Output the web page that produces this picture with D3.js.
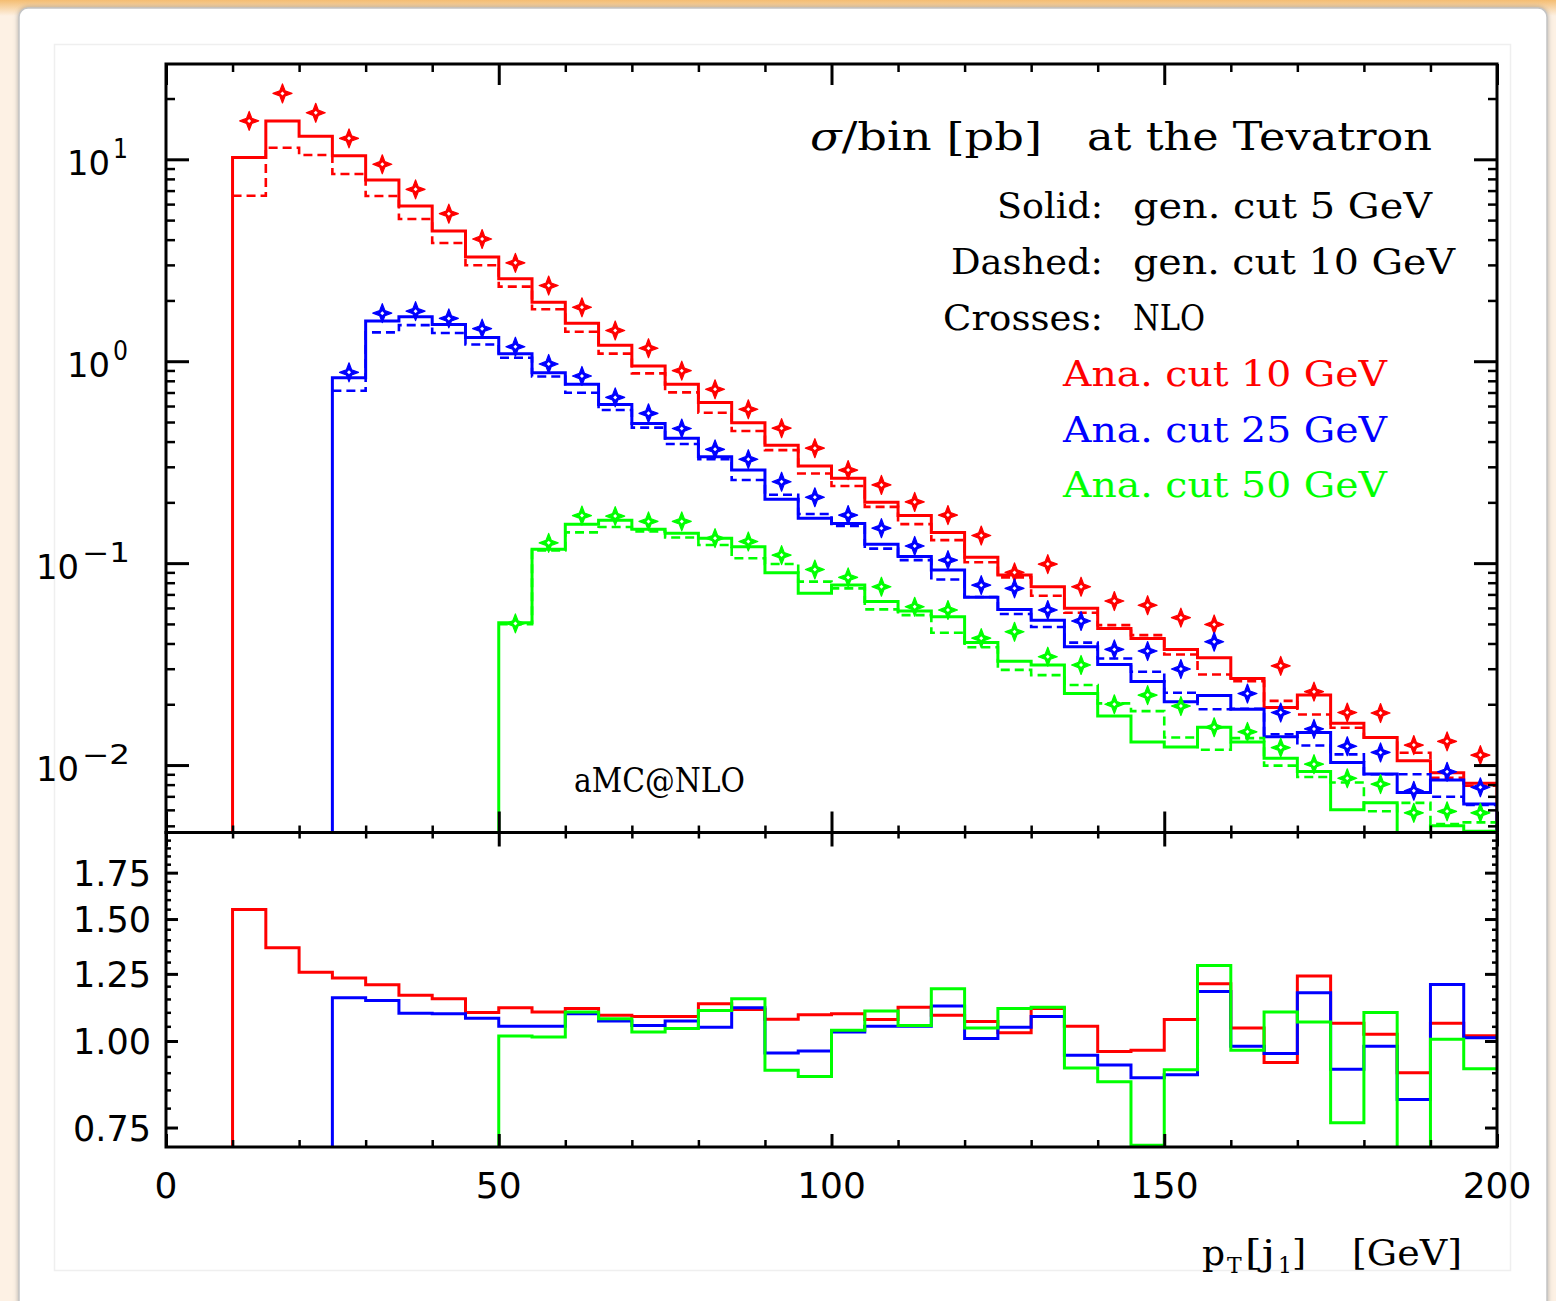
<!DOCTYPE html>
<html>
<head>
<meta charset="utf-8">
<script src="https://cdn.jsdelivr.net/npm/d3@7"></script>
<style>
  html, body { margin: 0; padding: 0; background: #fdf1e4; }
  svg { display: block; }
</style>
</head>
<body>
<div id="chart-area"></div>
<script>
// ---- data (sigma per 5 GeV bin, pb) ----
var binWidth = 5;
var xMax = 200;

// red: analysis cut 10 GeV, bins start at 10 GeV
var redStart = 10;
var redSolid = [10.2, 15.5, 13.0, 10.4, 7.9, 5.87, 4.41, 3.28, 2.56, 1.96,
  1.54, 1.20, 0.946, 0.769, 0.624, 0.496, 0.384, 0.303, 0.263, 0.200,
  0.172, 0.142, 0.107, 0.0873, 0.0764, 0.0597, 0.0475, 0.0424, 0.0374, 0.034,
  0.0268, 0.0193, 0.0222, 0.0161, 0.0137, 0.0105, 0.00917, 0.00812];
var redDashed = [6.6, 11.4, 10.5, 8.46, 6.58, 5.06, 3.85, 2.99, 2.34, 1.81,
  1.40, 1.09, 0.871, 0.701, 0.556, 0.451, 0.363, 0.278, 0.241, 0.190,
  0.156, 0.130, 0.101, 0.085, 0.069, 0.0568, 0.0493, 0.044, 0.0353, 0.0281,
  0.026, 0.0208, 0.0178, 0.0153, 0.0137, 0.0115, 0.00864, 0.0079];
// null = no cross visible in that bin
var redNLO = [15.5, 21.2, 17.0, 12.7, 9.45, 7.1, 5.38, 4.03, 3.07, 2.37,
  1.85, 1.42, 1.16, 0.898, 0.726, 0.578, 0.466, 0.371, 0.289, 0.244,
  0.201, 0.173, 0.137, 0.090, 0.0989, 0.0764, 0.0649, 0.0619, 0.0537, 0.0497,
  null, 0.031, 0.0231, 0.0182, 0.0181, 0.01256, 0.0131, 0.0112];
var redRatio = [1.548, 1.363, 1.257, 1.233, 1.206, 1.164, 1.151, 1.099, 1.117, 1.101,
  1.114, 1.089, 1.085, 1.085, 1.132, 1.110, 1.075, 1.091, 1.095, 1.074,
  1.119, 1.089, 1.067, 1.028, 1.114, 1.050, 0.966, 0.970, 1.074, 1.21,
  1.044, 0.931, 1.241, 1.061, 1.023, 0.900, 1.061, 1.018];

// blue: analysis cut 25 GeV
var blueStart = 25;
var blueSolid = [0.828, 1.58, 1.66, 1.52, 1.31, 1.09, 0.877, 0.768, 0.611, 0.492,
  0.415, 0.336, 0.289, 0.207, 0.167, 0.157, 0.124, 0.108, 0.0925, 0.0677,
  0.059, 0.0522, 0.0385, 0.0315, 0.0259, 0.0206, 0.0221, 0.0189, 0.0138, 0.0145,
  0.0103, 0.00902, 0.00732, 0.00843, 0.00641];
var blueDashed = [0.714, 1.39, 1.51, 1.38, 1.21, 1.04, 0.84, 0.698, 0.573, 0.469,
  0.389, 0.327, 0.258, 0.218, 0.175, 0.153, 0.118, 0.1035, 0.083, 0.068,
  0.056, 0.0483, 0.0404, 0.0337, 0.029, 0.0228, 0.0189, 0.019, 0.0142, 0.0125,
  0.0113, 0.009, 0.009, 0.00697, 0.00634];
var blueNLO = [0.881, 1.73, 1.77, 1.63, 1.45, 1.18, 0.969, 0.845, 0.662, 0.552,
  0.464, 0.366, 0.327, 0.253, 0.212, 0.173, 0.149, 0.1216, 0.1035, 0.0778,
  0.075, 0.0586, 0.0517, 0.0374, 0.0367, 0.0299, 0.0408, 0.0226, 0.0182, 0.0151,
  0.0124, 0.01155, 0.00746, 0.00926, 0.00776];
var blueRatio = [1.155, 1.144, 1.097, 1.095, 1.079, 1.050, 1.050, 1.095, 1.069, 1.053,
  1.069, 1.047, 1.117, 0.961, 0.967, 1.030, 1.050, 1.050, 1.123, 1.008,
  1.047, 1.085, 0.954, 0.923, 0.885, 0.894, 1.179, 0.983, 0.959, 1.174,
  0.910, 0.983, 0.823, 1.207, 1.011];

// green: analysis cut 50 GeV
var greenStart = 50;
var greenSolid = [0.0507, 0.117, 0.156, 0.163, 0.147, 0.1405, 0.133, 0.1206, 0.0897, 0.0709,
  0.078, 0.0645, 0.058, 0.0543, 0.0404, 0.0327, 0.0313, 0.0226, 0.0175, 0.013,
  0.0123, 0.0154, 0.013, 0.0108, 0.0093, 0.0060, 0.0065, 0.0042, 0.0050, 0.0047];
var greenDashed = [0.0499, 0.1155, 0.142, 0.151, 0.1437, 0.134, 0.123, 0.1057, 0.099, 0.081,
  0.075, 0.059, 0.0553, 0.0452, 0.0383, 0.0296, 0.0279, 0.0249, 0.0202, 0.0185,
  0.0137, 0.0119, 0.0136, 0.00993, 0.00873, 0.0082, 0.0059, 0.0065, 0.0051, 0.0052];
var greenNLO = [0.0503, 0.126, 0.172, 0.171, 0.161, 0.161, 0.133, 0.128, 0.1096, 0.093,
  0.085, 0.0764, 0.0608, 0.0586, 0.0425, 0.0457, 0.0344, 0.0313, 0.020, 0.0222,
  0.0196, 0.0154, 0.0146, 0.0122, 0.0101, 0.0086, 0.00805, 0.0058, 0.0059, 0.0058];
var greenRatio = [1.017, 1.013, 1.101, 1.077, 1.030, 1.042, 1.107, 1.151, 0.907, 0.889,
  1.036, 1.105, 1.053, 1.190, 1.044, 1.114, 1.119, 0.914, 0.873, 0.707,
  0.909, 1.285, 0.970, 1.101, 1.065, 0.762, 1.099, 0.65, 1.006, 0.912];

// ticks / labels
var xMajor = [0, 50, 100, 150, 200];
var decades = [0.01, 0.1, 1, 10];
var decadeExp = ["\u22122", "\u22121", "0", "1"];
var ratioMajor = [0.75, 1.00, 1.25, 1.50, 1.75];
var ratioLabels = ["0.75", "1.00", "1.25", "1.50", "1.75"];
var legendLines = ["Ana. cut 10 GeV", "Ana. cut 25 GeV", "Ana. cut 50 GeV"];

var series = [
  {color: "#ff0000", start: redStart, solid: redSolid, dashed: redDashed, nlo: redNLO, ratio: redRatio},
  {color: "#0000ff", start: blueStart, solid: blueSolid, dashed: blueDashed, nlo: blueNLO, ratio: blueRatio},
  {color: "#00ff00", start: greenStart, solid: greenSolid, dashed: greenDashed, nlo: greenNLO, ratio: greenRatio}
];

// ---- layout ----
var W = 1556, H = 1301;
var L = 166, R = 1497, T = 64, M = 832.5, B = 1147;

var svg = d3.select("#chart-area")
  .append("svg")
  .attr("width", W)
  .attr("height", H);

var defs = svg.append("defs");
var grad = defs.append("linearGradient").attr("id", "topband")
  .attr("x1", 0).attr("y1", 0).attr("x2", 0).attr("y2", 1);
grad.append("stop").attr("offset", "0%").attr("stop-color", "#f4bd72");
grad.append("stop").attr("offset", "100%").attr("stop-color", "#fdf1e4");
var shadow = defs.append("filter").attr("id", "shadow")
  .attr("x", "-5%").attr("y", "-5%").attr("width", "110%").attr("height", "110%");
shadow.append("feDropShadow").attr("dx", 0).attr("dy", 0)
  .attr("stdDeviation", 2.5).attr("flood-color", "#888").attr("flood-opacity", 0.7);

defs.append("clipPath").attr("id", "clipTop")
  .append("rect").attr("x", L).attr("y", T).attr("width", R - L).attr("height", M - T);
defs.append("clipPath").attr("id", "clipBot")
  .append("rect").attr("x", L).attr("y", M).attr("width", R - L).attr("height", B - M);

// page background (slide frame)
svg.append("rect").attr("width", W).attr("height", H).attr("fill", "#fdf1e4");
svg.append("rect").attr("width", W).attr("height", 16).attr("fill", "url(#topband)");
svg.append("rect").attr("x", 19).attr("y", 8).attr("width", 1528).attr("height", 1330)
  .attr("rx", 9).attr("fill", "#fff").attr("stroke", "#c4c4c4").attr("stroke-width", 1.5)
  .attr("filter", "url(#shadow)");
svg.append("rect").attr("x", 54.5).attr("y", 44.5).attr("width", 1456).attr("height", 1226)
  .attr("fill", "none").attr("stroke", "#efefef").attr("stroke-width", 1.5);

// ---- scales ----
var x = d3.scaleLinear().domain([0, xMax]).range([L, R]);
var y = d3.scaleLog().domain([0.004634, 29.65]).range([M, T]);
var yr = d3.scaleLog().domain([0.703, 2.0]).range([B, M]);

// ---- histograms ----
function histPoints(start, vals) {
  var pts = [{x: start, v: 0}];
  vals.forEach(function (v, i) { pts.push({x: start + i * binWidth, v: v}); });
  pts.push({x: start + vals.length * binWidth, v: vals[vals.length - 1]});
  pts.push({x: start + vals.length * binWidth, v: 0});
  return pts;
}
function dashPoints(start, vals) {
  var pts = vals.map(function (v, i) { return {x: start + i * binWidth, v: v}; });
  pts.push({x: start + vals.length * binWidth, v: vals[vals.length - 1]});
  return pts;
}

var lineTop = d3.line()
  .x(function (d) { return x(d.x); })
  .y(function (d) { return d.v > 0 ? y(d.v) : M + 5; })
  .curve(d3.curveStepAfter);
var lineBot = d3.line()
  .x(function (d) { return x(d.x); })
  .y(function (d) { return d.v > 0 ? yr(d.v) : B + 5; })
  .curve(d3.curveStepAfter);

var topG = svg.append("g").attr("clip-path", "url(#clipTop)");
var botG = svg.append("g").attr("clip-path", "url(#clipBot)");

// four pointed star with open centre
var starShape = "M0,-9.5 L2.6,-2.6 L9.5,0 L2.6,2.6 L0,9.5 L-2.6,2.6 L-9.5,0 L-2.6,-2.6 Z";
var starHole = "M0,-2 L2,0 L0,2 L-2,0 Z";

series.forEach(function (s) {
  topG.append("path")
    .attr("d", lineTop(dashPoints(s.start, s.dashed)))
    .attr("fill", "none").attr("stroke", s.color)
    .attr("stroke-width", 2.6).attr("stroke-dasharray", "9,5");
  topG.append("path")
    .attr("d", lineTop(histPoints(s.start, s.solid)))
    .attr("fill", "none").attr("stroke", s.color)
    .attr("stroke-width", 3);

  var pts = s.nlo
    .map(function (v, i) { return {c: s.start + (i + 0.5) * binWidth, v: v}; })
    .filter(function (d) { return d.v != null; });
  var stars = topG.selectAll(null)
    .data(pts)
    .enter()
    .append("g")
    .attr("transform", function (d) {
      return "translate(" + x(d.c) + "," + y(d.v) + ")";
    });
  stars.append("path").attr("d", starShape).attr("fill", s.color)
    .attr("stroke", s.color).attr("stroke-width", 1.2).attr("stroke-linejoin", "round");
  stars.append("path").attr("d", starHole).attr("fill", "#fff");

  botG.append("path")
    .attr("d", lineBot(histPoints(s.start, s.ratio).slice(0, -1)))
    .attr("fill", "none").attr("stroke", s.color)
    .attr("stroke-width", 3);
});

// ---- axes (ticks point inwards) ----
function minorLog(lo, hi) {
  var out = [];
  for (var k = -4; k <= 2; k++) {
    for (var d = 2; d <= 9; d++) {
      var v = d * Math.pow(10, k);
      if (v > lo && v < hi) out.push(v);
    }
  }
  return out;
}
var yMinor = minorLog(0.004634, 29.65);
var xMinor = d3.range(10, 200, 10).filter(function (v) { return v % 50 !== 0; });
var ratioMinor = d3.range(0.80, 2.0, 0.05).filter(function (v) {
  return ratioMajor.every(function (m) { return Math.abs(m - v) > 0.01; });
});

function drawAxis(axis, transform, width) {
  var g = svg.append("g").attr("transform", transform).call(axis);
  g.select(".domain").remove();
  g.selectAll("line").attr("stroke", "#000").attr("stroke-width", width);
  g.selectAll("text").remove();
}

// upper panel
drawAxis(d3.axisLeft(y).tickValues(decades).tickSize(-23), "translate(" + L + ",0)", 3);
drawAxis(d3.axisLeft(y).tickValues(yMinor).tickSize(-9), "translate(" + L + ",0)", 2.5);
drawAxis(d3.axisRight(y).tickValues(decades).tickSize(-23), "translate(" + R + ",0)", 3);
drawAxis(d3.axisRight(y).tickValues(yMinor).tickSize(-9), "translate(" + R + ",0)", 2.5);
drawAxis(d3.axisTop(x).tickValues(xMajor).tickSize(-21), "translate(0," + T + ")", 3);
drawAxis(d3.axisTop(x).tickValues(xMinor).tickSize(-8), "translate(0," + T + ")", 2.5);
drawAxis(d3.axisBottom(x).tickValues(xMajor).tickSize(-21), "translate(0," + M + ")", 3);
drawAxis(d3.axisBottom(x).tickValues(xMinor).tickSize(-7), "translate(0," + M + ")", 2.5);

// lower panel
drawAxis(d3.axisTop(x).tickValues(xMajor).tickSize(-14), "translate(0," + M + ")", 3);
drawAxis(d3.axisTop(x).tickValues(xMinor).tickSize(-6), "translate(0," + M + ")", 2.5);
drawAxis(d3.axisBottom(x).tickValues(xMajor).tickSize(-13), "translate(0," + B + ")", 3);
drawAxis(d3.axisBottom(x).tickValues(xMinor).tickSize(-7), "translate(0," + B + ")", 2.5);
drawAxis(d3.axisLeft(yr).tickValues(ratioMajor).tickSize(-12), "translate(" + L + ",0)", 3);
drawAxis(d3.axisLeft(yr).tickValues(ratioMinor).tickSize(-5), "translate(" + L + ",0)", 2.5);
drawAxis(d3.axisRight(yr).tickValues(ratioMajor).tickSize(-12), "translate(" + R + ",0)", 3);
drawAxis(d3.axisRight(yr).tickValues(ratioMinor).tickSize(-5), "translate(" + R + ",0)", 2.5);

// frames
svg.append("rect").attr("x", L).attr("y", T).attr("width", R - L).attr("height", M - T)
  .attr("fill", "none").attr("stroke", "#000").attr("stroke-width", 3);
svg.append("rect").attr("x", L).attr("y", M).attr("width", R - L).attr("height", B - M)
  .attr("fill", "none").attr("stroke", "#000").attr("stroke-width", 3);

// ---- tick labels ----
var numFont = "'DejaVu Sans', sans-serif";
var txtFont = "'DejaVu Serif', serif";

decades.forEach(function (d, i) {
  var neg = decadeExp[i].length > 1;
  var ex = neg ? 82 : 113;
  svg.append("text")
    .attr("x", ex - 3).attr("y", y(d) + 16)
    .attr("text-anchor", "end")
    .attr("font-family", numFont).attr("font-size", 34)
    .attr("textLength", 43).attr("lengthAdjust", "spacingAndGlyphs")
    .text("10");
  svg.append("text")
    .attr("x", ex).attr("y", y(d) - 1)
    .attr("font-family", numFont).attr("font-size", 26)
    .attr("textLength", neg ? 48 : 15).attr("lengthAdjust", "spacingAndGlyphs")
    .text(decadeExp[i]);
});

ratioMajor.forEach(function (d, i) {
  svg.append("text")
    .attr("x", 151).attr("y", yr(d) + 13)
    .attr("text-anchor", "end")
    .attr("font-family", numFont).attr("font-size", 35)
    .attr("textLength", 78).attr("lengthAdjust", "spacingAndGlyphs")
    .text(ratioLabels[i]);
});

svg.selectAll(null).data(xMajor).enter()
  .append("text")
  .attr("x", function (d) { return x(d); })
  .attr("y", 1198)
  .attr("text-anchor", "middle")
  .attr("font-family", numFont).attr("font-size", 36)
  .text(function (d) { return d; });

// x axis title  p_T[j_1]  [GeV]
var xt = svg.append("g").attr("font-family", txtFont).attr("fill", "#000");
xt.append("text").attr("x", 1202).attr("y", 1265).attr("font-size", 36).text("p");
xt.append("text").attr("x", 1227).attr("y", 1273).attr("font-size", 22).text("T");
xt.append("text").attr("x", 1245).attr("y", 1265).attr("font-size", 36)
  .attr("textLength", 30).attr("lengthAdjust", "spacingAndGlyphs").text("[j");
xt.append("text").attr("x", 1278).attr("y", 1273).attr("font-size", 22).text("1");
xt.append("text").attr("x", 1292).attr("y", 1265).attr("font-size", 36).text("]");
xt.append("text").attr("x", 1352).attr("y", 1265).attr("font-size", 36)
  .attr("textLength", 110).attr("lengthAdjust", "spacingAndGlyphs").text("[GeV]");

// ---- annotations ----
var ann = svg.append("g").attr("font-family", txtFont).attr("fill", "#000");
var title = ann.append("text").attr("x", 810).attr("y", 150).attr("font-size", 39)
  .attr("textLength", 232).attr("lengthAdjust", "spacingAndGlyphs");
title.append("tspan").attr("font-style", "italic").text("\u03c3");
title.append("tspan").text("/bin [pb]");
ann.append("text").attr("x", 1087).attr("y", 150).attr("font-size", 39)
  .attr("textLength", 345).attr("lengthAdjust", "spacingAndGlyphs").text("at the Tevatron");

var rows = [
  {label: "Solid:", text: "gen. cut 5 GeV", y: 218, lw: 106, tw: 299},
  {label: "Dashed:", text: "gen. cut 10 GeV", y: 274, lw: 152, tw: 322},
  {label: "Crosses:", text: "NLO", y: 330, lw: 160, tw: 72}
];
rows.forEach(function (r) {
  ann.append("text").attr("x", 1103 - r.lw).attr("y", r.y).attr("font-size", 36)
    .attr("textLength", r.lw).attr("lengthAdjust", "spacingAndGlyphs").text(r.label);
  ann.append("text").attr("x", 1133).attr("y", r.y).attr("font-size", 36)
    .attr("textLength", r.tw).attr("lengthAdjust", "spacingAndGlyphs").text(r.text);
});

legendLines.forEach(function (l, i) {
  ann.append("text").attr("x", 1063).attr("y", 386 + i * 55.5).attr("font-size", 36)
    .attr("fill", series[i].color)
    .attr("textLength", 324).attr("lengthAdjust", "spacingAndGlyphs").text(l);
});

ann.append("text").attr("x", 574).attr("y", 792).attr("font-size", 34)
  .attr("textLength", 171).attr("lengthAdjust", "spacingAndGlyphs").text("aMC@NLO");
</script>
</body>
</html>
